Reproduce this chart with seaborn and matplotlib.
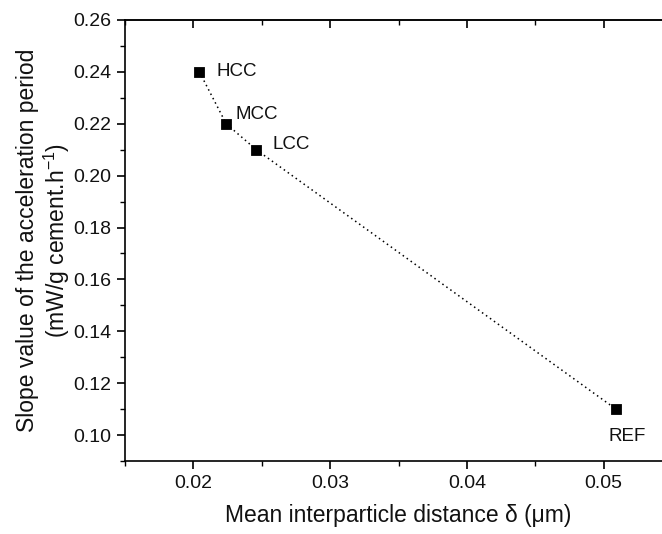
import matplotlib
matplotlib.use("Agg")
import matplotlib.pyplot as plt
import seaborn as sns
import pandas as pd
from matplotlib.ticker import MultipleLocator

labels = ["HCC", "MCC", "LCC", "REF"]
distance = [0.02044, 0.0224, 0.0246, 0.0509]
slope = [0.24, 0.22, 0.21, 0.11]

df = pd.DataFrame({"label": labels, "distance": distance, "slope": slope})

sns.set_theme(style="white")
plt.rcParams['font.family'] = ['Liberation Sans', 'DejaVu Sans']
plt.rcParams['mathtext.fontset'] = 'custom'
plt.rcParams['mathtext.rm'] = 'Liberation Sans'
plt.rcParams['mathtext.it'] = 'Liberation Sans:italic'

fig = plt.figure(figsize=(6.62, 5.34), dpi=100)
ax = fig.add_axes([125/662, 1-461/534, (672-125)/662, (461-20)/534])

sns.lineplot(data=df, x="distance", y="slope", ax=ax, color="black",
             linestyle=(0, (1, 2.2)), linewidth=1.1, sort=False)
sns.scatterplot(data=df, x="distance", y="slope", ax=ax, marker="s",
                color="black", s=55, edgecolor="black", zorder=5)

offsets = {"HCC": (12, 0, "left", "center"),
           "MCC": (7, 7, "left", "center"),
           "LCC": (12, 4, "left", "center"),
           "REF": (8, -20, "center", "center")}
for lab, xv, yv in zip(labels, distance, slope):
    dx, dy, ha, va = offsets[lab]
    ax.annotate(lab, (xv, yv), xytext=(dx, dy), textcoords="offset points",
                ha=ha, va=va, fontsize=13.5, color="#111111")

ax.set_xlim(0.015, 0.055)
ax.set_ylim(0.09, 0.26)
ax.xaxis.set_minor_locator(MultipleLocator(0.005))
ax.yaxis.set_minor_locator(MultipleLocator(0.01))
ax.set_xticks([0.02, 0.03, 0.04, 0.05])
ax.set_xticklabels(["0.02", "0.03", "0.04", "0.05"])
yt = [0.10, 0.12, 0.14, 0.16, 0.18, 0.20, 0.22, 0.24, 0.26]
ax.set_yticks(yt)
ax.set_yticklabels([f"{v:.2f}" for v in yt])

ax.tick_params(which="both", direction="out", top=False, right=False,
               bottom=True, left=True, color="black", labelsize=14, pad=4,
               labelcolor="#111111")
ax.tick_params(which="major", length=6, width=1.2)
ax.tick_params(which="minor", length=3.5, width=1.0)

sec_x = ax.secondary_xaxis("top")
sec_x.xaxis.set_major_locator(MultipleLocator(0.01))
sec_x.xaxis.set_minor_locator(MultipleLocator(0.005))
sec_x.tick_params(which="both", direction="in", labeltop=False, color="black")
sec_x.tick_params(which="major", length=6, width=1.2)
sec_x.tick_params(which="minor", length=3.5, width=1.0)
sec_x.spines["top"].set_linewidth(1.2)

for sp in ax.spines.values():
    sp.set_color("black")
    sp.set_linewidth(1.2)

ax.set_xlabel("Mean interparticle distance δ (μm)", fontsize=16.5, labelpad=9,
              color="#111111")
ax.set_ylabel("Slope value of the acceleration period\n(mW/g cement.h$^{-1}$)",
              fontsize=16.5, labelpad=1, linespacing=1.1, color="#111111")

fig.savefig("out.png", dpi=100)
